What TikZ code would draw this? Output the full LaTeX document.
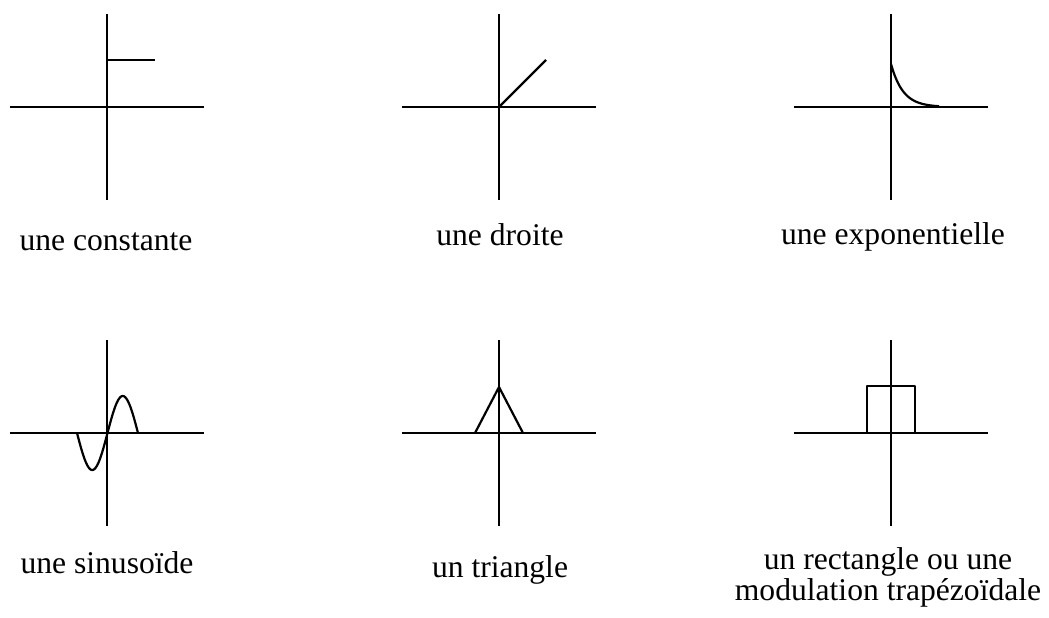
\documentclass[tikz,border=0pt]{standalone}
\usepackage{fontspec}
\setmainfont{Liberation Serif}
\usepackage{tikz}

\begin{document}
\begin{tikzpicture}[x=0.5pt,y=-0.5pt,
  axe/.style={line width=0.7pt},
  courbe/.style={line width=1.1pt, line join=round},
  legende/.style={anchor=base, inner sep=0pt, font=\fontsize{15.8}{13}\selectfont}]
 			\useasboundingbox (0,0) rectangle (1049,617);
 			
 			% les axes
 			\foreach \cx/\cy in {107/107, 499/107, 891/107, 107/433, 499/433, 891/433}{
 				\draw[axe] (\cx-97,\cy) -- (\cx+97,\cy);
 				\draw[axe] (\cx,\cy-93) -- (\cx,\cy+93);
 			}
 			
 			% les signaux
 			\draw[courbe] (107,60) -- (155,60);
 			\draw[courbe] (499,107) -- (546,60);
 			\draw[courbe] plot[domain=0:48, samples=40] ({891+\x},{107-43*exp(-\x/12)});
 			\draw[courbe] plot[domain=0:360, samples=73] ({77+\x/360*61},{433+37*sin(\x)});
 			\draw[courbe] (475,433) -- (499,387) -- (523,433);
 			\draw[courbe] (867,433) -- (867,386) -- (915,386) -- (915,433);
 			
 			\node[legende] (constante) at (106,250) {une constante};
 			\node[legende] (droite) at (500,245) {une droite};
 			\node[legende] (expo) at (893,244) {une exponentielle};
 			\node[legende] (sinus) at (107,573) {une sinusoïde};
 			\node[legende] (triangle) at (500,577) {un triangle};
 			\node[legende, align=center] (rectangle) at (888,600) {un rectangle ou une\\ modulation trapézoïdale};
 		\end{tikzpicture}
\end{document}
